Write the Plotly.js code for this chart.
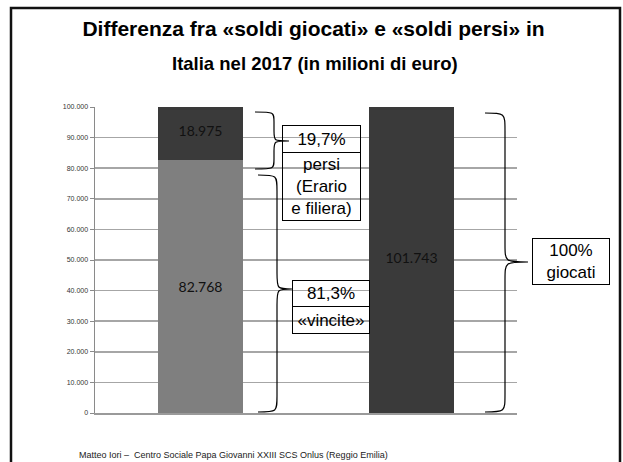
<!DOCTYPE html>
<html>
<head>
<meta charset="utf-8">
<script src="https://cdn.plot.ly/plotly-3.0.1.min.js"></script>
<style>html,body{margin:0;padding:0;background:#fff;}#chart{width:623px;height:462px;}</style>
</head>
<body>
<div id="chart"></div>
<script>
// ---- data ----
const categories = ['Soldi persi e vincite', 'Soldi giocati'];
const vincite = [82768, null];
const persi = [18975, null];
const giocati = [null, 101743];
const yTickVals = [0, 10000, 20000, 30000, 40000, 50000, 60000, 70000, 80000, 90000, 100000];
const titleLine1 = 'Differenza fra «soldi giocati» e «soldi persi» in';
const titleLine2 = 'Italia nel 2017 (in milioni di euro)';
const footer = 'Matteo Iori –  Centro Sociale Papa Giovanni XXIII SCS Onlus (Reggio Emilia)';

// ---- geometry helpers (plot area in pixels) ----
const W = 623, H = 462;
const L = 95, R = 517, T = 107, B = 413;
const px = x => (x - L) / (R - L);
const py = y => (B - y) / (B - T);

function brace(xEnd, xSpine, xTip, yTop, yTip, yBot, r) {
  const p = (x, y) => px(x).toFixed(5) + ',' + py(y).toFixed(5);
  return 'M' + p(xEnd, yTop) +
    ' C' + p(xSpine, yTop) + ' ' + p(xSpine, yTop) + ' ' + p(xSpine, yTop + r) +
    ' L' + p(xSpine, yTip - r) +
    ' C' + p(xSpine, yTip) + ' ' + p(xSpine, yTip) + ' ' + p(xTip, yTip) +
    ' M' + p(xTip, yTip) +
    ' C' + p(xSpine, yTip) + ' ' + p(xSpine, yTip) + ' ' + p(xSpine, yTip + r) +
    ' L' + p(xSpine, yBot - r) +
    ' C' + p(xSpine, yBot) + ' ' + p(xSpine, yBot) + ' ' + p(xEnd, yBot);
}

const barText = {family: 'Lato, "Open Sans", sans-serif', size: 14, color: '#111'};
const common = {
  type: 'bar', x: categories, texttemplate: '%{y:,.0f}', textposition: 'inside',
  insidetextanchor: 'middle', textangle: 0, insidetextfont: barText,
  hoverinfo: 'y', marker: {line: {width: 0}}
};

const traces = [
  Object.assign({}, common, {name: 'vincite', y: vincite, marker: {color: '#7f7f7f'}}),
  Object.assign({}, common, {name: 'persi', y: persi, marker: {color: '#3a3a3a'}}),
  Object.assign({}, common, {name: 'giocati', y: giocati, marker: {color: '#3a3a3a'}})
];

const boxFont = {family: '"Liberation Sans", Arial, sans-serif', size: 17, color: '#000'};
function box(text, cx, cy, w, h) {
  return {
    text: text, xref: 'paper', yref: 'paper', x: px(cx), y: py(cy),
    xanchor: 'center', yanchor: 'middle', showarrow: false,
    width: w, height: h, borderpad: 0, bordercolor: '#000', borderwidth: 1,
    font: boxFont, align: 'center', valign: 'middle'
  };
}

const braceLine = {color: '#000', width: 1.2};
const layout = {
  width: W, height: H,
  margin: {l: L, r: W - R, t: T, b: H - B, pad: 0},
  paper_bgcolor: '#fff', plot_bgcolor: '#fff',
  separators: ',.',
  barmode: 'stack', bargap: 0.6, showlegend: false,
  title: {
    text: '<b>' + titleLine1 + '</b>',
    font: {family: '"Liberation Sans", Arial, sans-serif', size: 21, color: '#000'},
    x: 313.5 / W, xanchor: 'center', xref: 'container',
    y: 1 - 29 / H, yanchor: 'middle', yref: 'container'
  },
  xaxis: {
    showticklabels: false, ticks: '', showgrid: false, zeroline: false,
    showline: true, linecolor: '#9a9a9a', linewidth: 1.5, fixedrange: true
  },
  yaxis: {
    range: [0, 100000], tickvals: yTickVals, tickformat: ',d',
    tickfont: {family: '"Liberation Sans", Arial, sans-serif', size: 7, color: '#333'},
    ticks: 'outside', ticklen: 4, tickcolor: '#8a8a8a', tickwidth: 1,
    showgrid: true, gridcolor: '#a6a6a6', gridwidth: 1.5, zeroline: false,
    showline: true, linecolor: '#8a8a8a', linewidth: 1.5, fixedrange: true
  },
  annotations: [
    {
      text: '<b>' + titleLine2 + '</b>', xref: 'paper', yref: 'paper',
      x: px(315), y: py(63), xanchor: 'center', yanchor: 'middle', showarrow: false,
      font: {family: '"Liberation Sans", Arial, sans-serif', size: 18.5, color: '#000'}
    },
    box('19,7%', 321, 138.5, 77, 26),
    box('persi<br>(Erario<br>e filiera)', 321, 186, 77, 67),
    box('81,3%', 331, 293, 76, 25),
    box('«vincite»', 331, 319.5, 76, 26),
    box('100%<br>giocati', 570.5, 261, 76, 45),
    {
      text: footer, xref: 'paper', yref: 'paper', x: px(233), y: py(455),
      xanchor: 'center', yanchor: 'middle', showarrow: false,
      font: {family: '"Liberation Sans", Arial, sans-serif', size: 9, color: '#222'}
    }
  ],
  shapes: [
    {type: 'rect', xref: 'paper', yref: 'paper', x0: px(11), x1: px(620), y0: py(480), y1: py(8),
     line: {color: '#111', width: 2.5}, fillcolor: 'rgba(0,0,0,0)', layer: 'above'},
    {type: 'path', xref: 'paper', yref: 'paper', path: brace(255, 274, 289, 112, 141, 169, 10), line: braceLine},
    {type: 'path', xref: 'paper', yref: 'paper', path: brace(258, 277, 292, 175, 289, 412, 16), line: braceLine},
    {type: 'path', xref: 'paper', yref: 'paper', path: brace(485, 505, 528, 113, 262, 412, 18), line: braceLine}
  ]
};

Plotly.newPlot('chart', traces, layout, {displayModeBar: false, staticPlot: true});
</script>
</body>
</html>
